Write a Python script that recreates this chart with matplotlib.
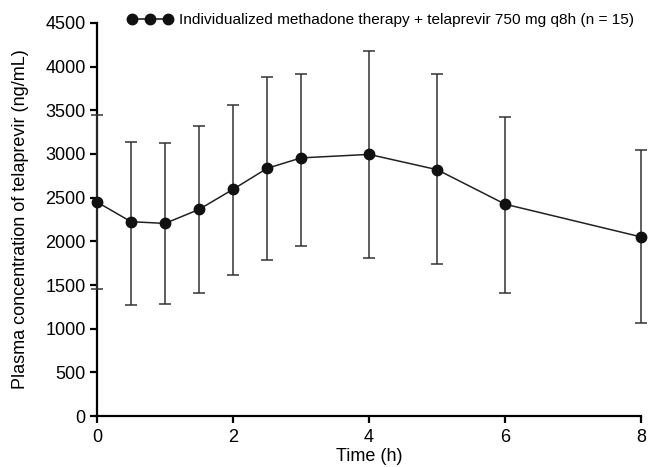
import matplotlib
matplotlib.use("Agg")
import matplotlib.pyplot as plt
from matplotlib.lines import Line2D

time_h = [0, 0.5, 1, 1.5, 2, 2.5, 3, 4, 5, 6, 8]
mean_conc = [2450, 2225, 2205, 2365, 2595, 2835, 2955, 2995, 2820, 2425, 2050]
upper = [3450, 3140, 3120, 3315, 3560, 3885, 3920, 4175, 3920, 3420, 3040]
lower = [1450, 1275, 1285, 1410, 1615, 1790, 1950, 1815, 1745, 1410, 1065]

err_lo = [m - l for m, l in zip(mean_conc, lower)]
err_hi = [u - m for u, m in zip(upper, mean_conc)]

plt.rcParams['font.family'] = ['Liberation Sans', 'DejaVu Sans']

fig = plt.figure(figsize=(6.55, 4.67), dpi=100)
ax = fig.add_axes([0.148, 0.109, 0.831, 0.842])

ax.errorbar(time_h, mean_conc, yerr=[err_lo, err_hi], color='#222222',
            ecolor='#333333', elinewidth=1.1, capsize=4, capthick=1.1,
            lw=1.1, marker='o', ms=7.5, mfc='#111111', mec='#111111',
            clip_on=False, zorder=3)

ax.set_xlim(0, 8)
ax.set_ylim(0, 4500)
ax.set_xticks([0, 2, 4, 6, 8])
ax.set_yticks(range(0, 4501, 500))
ax.spines['top'].set_visible(False)
ax.spines['right'].set_visible(False)
ax.spines['left'].set_linewidth(1.6)
ax.spines['bottom'].set_linewidth(1.6)
ax.tick_params(direction='out', length=5, width=1.6, labelsize=13)
ax.tick_params(axis='x', pad=4)
ax.tick_params(axis='y', pad=3)
ax.set_xlabel('Time (h)', fontsize=13, labelpad=2)
ax.set_ylabel('Plasma concentration of telaprevir (ng/mL)', fontsize=13, labelpad=12)

h = Line2D([], [], color='#111111', marker='o', ms=7.5, lw=1.1)
ax.legend([h], ['Individualized methadone therapy + telaprevir 750 mg q8h (n = 15)'],
          loc='upper left', bbox_to_anchor=(0.045, 1.04), frameon=False,
          numpoints=3, handlelength=2.9, handletextpad=0.45, fontsize=11.1,
          borderaxespad=0)

fig.savefig('out.png', dpi=100)
